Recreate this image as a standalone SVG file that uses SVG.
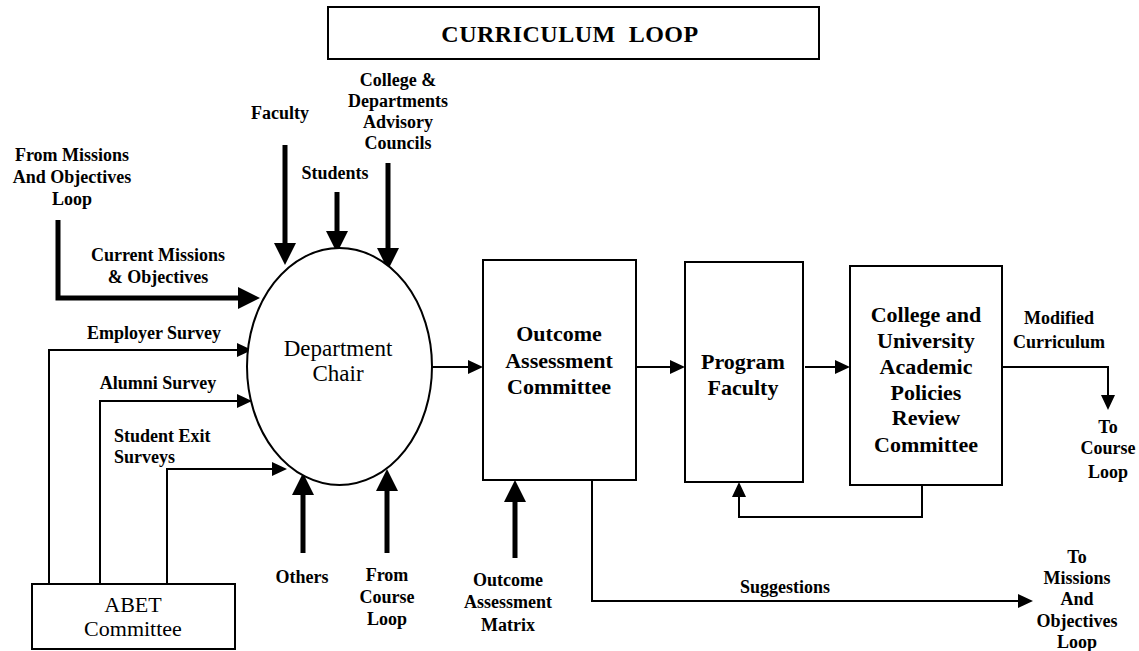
<svg xmlns="http://www.w3.org/2000/svg" width="1139" height="651" viewBox="0 0 1139 651">
<defs>
<style>
text{font-family:'Liberation Serif','DejaVu Serif',serif;fill:#000}
.shape{fill:#fff;stroke:#000;stroke-width:2}
.thick{fill:none;stroke:#000;stroke-width:5}
.thin{fill:none;stroke:#000;stroke-width:2}
.lbl{font-weight:bold;font-size:18px;text-anchor:middle}
.nb{font-weight:bold;font-size:22px;text-anchor:middle}
.nr{font-size:22px;text-anchor:middle}
</style>
<marker id="big" viewBox="0 0 22 22" markerWidth="22" markerHeight="22" refX="0" refY="11" orient="auto" markerUnits="userSpaceOnUse"><path d="M0,0 L22,11 L0,22 z" fill="#000"/></marker>
<marker id="small" viewBox="0 0 15 14" markerWidth="15" markerHeight="14" refX="0" refY="7" orient="auto" markerUnits="userSpaceOnUse"><path d="M0,0 L15,7 L0,14 z" fill="#000"/></marker>
</defs>
<rect width="1139" height="651" fill="#fff"/>

<g id="title">
<rect class="shape" x="328" y="7" width="491" height="52"/>
<text x="570" y="42" class="nb" style="font-size:24px;white-space:pre;letter-spacing:0.5px" xml:space="preserve">CURRICULUM  LOOP</text>
</g>

<g id="connectors">
<path class="thick" d="M285,145 V243" marker-end="url(#big)"/>
<path class="thick" d="M337,192 V231" marker-end="url(#big)"/>
<path class="thick" d="M388,163 V248" marker-end="url(#big)"/>
<path class="thick" d="M58,220 V298 H238" marker-end="url(#big)"/>
<path class="thick" d="M303,553 V495" marker-end="url(#big)"/>
<path class="thick" d="M387,553 V491" marker-end="url(#big)"/>
<path class="thick" d="M515,558 V502" marker-end="url(#big)"/>
<path class="thin" d="M49,584 V350 H237" marker-end="url(#small)"/>
<path class="thin" d="M100,584 V401 H237" marker-end="url(#small)"/>
<path class="thin" d="M167,584 V469 H272" marker-end="url(#small)"/>
<path class="thin" d="M432,367 H468" marker-end="url(#small)"/>
<path class="thin" d="M636,367 H670" marker-end="url(#small)"/>
<path class="thin" d="M805,367 H835" marker-end="url(#small)"/>
<path class="thin" d="M1002,367 H1108 V395" marker-end="url(#small)"/>
<path class="thin" d="M922,485 V517 H739 V497" marker-end="url(#small)"/>
<path class="thin" d="M592,480 V601 H1018" marker-end="url(#small)"/>
</g>

<g id="department-chair">
<ellipse class="shape" cx="339.5" cy="366.5" rx="92.5" ry="118.5"/>
<text class="nr" style="font-size:23px" x="338" y="356">Department</text>
<text class="nr" style="font-size:23px" x="338" y="381">Chair</text>
</g>

<g id="outcome-assessment-committee">
<rect class="shape" x="483" y="260" width="153" height="220"/>
<text class="nb" x="559" y="341">Outcome</text>
<text class="nb" x="559" y="368">Assessment</text>
<text class="nb" x="559" y="394">Committee</text>
</g>

<g id="program-faculty">
<rect class="shape" x="685" y="262" width="118" height="220"/>
<text class="nb" x="743" y="369">Program</text>
<text class="nb" x="743" y="395">Faculty</text>
</g>

<g id="college-committee">
<rect class="shape" x="850" y="266" width="152" height="219"/>
<text class="nb" x="926" y="322">College and</text>
<text class="nb" x="926" y="348">University</text>
<text class="nb" x="926" y="374">Academic</text>
<text class="nb" x="926" y="400">Policies</text>
<text class="nb" x="926" y="425">Review</text>
<text class="nb" x="926" y="452">Committee</text>
</g>

<g id="abet-committee">
<rect class="shape" x="32" y="584" width="203" height="65"/>
<text class="nr" x="133" y="612">ABET</text>
<text class="nr" x="133" y="636">Committee</text>
</g>

<g id="labels">
<text class="lbl" x="280" y="119">Faculty</text>
<text class="lbl" x="335" y="179">Students</text>
<text class="lbl" x="398" y="86">College &amp;</text>
<text class="lbl" x="398" y="107">Departments</text>
<text class="lbl" x="398" y="128">Advisory</text>
<text class="lbl" x="398" y="149">Councils</text>
<text class="lbl" x="72" y="161">From Missions</text>
<text class="lbl" x="72" y="183">And Objectives</text>
<text class="lbl" x="72" y="205">Loop</text>
<text class="lbl" x="158" y="261">Current Missions</text>
<text class="lbl" x="158" y="283">&amp; Objectives</text>
<text class="lbl" x="154" y="339">Employer Survey</text>
<text class="lbl" x="158" y="389">Alumni Survey</text>
<text class="lbl" x="114" y="442" style="text-anchor:start">Student Exit</text>
<text class="lbl" x="114" y="463" style="text-anchor:start">Surveys</text>
<text class="lbl" x="302" y="583">Others</text>
<text class="lbl" x="387" y="581">From</text>
<text class="lbl" x="387" y="603">Course</text>
<text class="lbl" x="387" y="625">Loop</text>
<text class="lbl" x="508" y="586">Outcome</text>
<text class="lbl" x="508" y="608">Assessment</text>
<text class="lbl" x="508" y="631">Matrix</text>
<text class="lbl" x="785" y="593">Suggestions</text>
<text class="lbl" x="1059" y="324">Modified</text>
<text class="lbl" x="1059" y="348">Curriculum</text>
<text class="lbl" x="1108" y="433">To</text>
<text class="lbl" x="1108" y="454">Course</text>
<text class="lbl" x="1108" y="478">Loop</text>
<text class="lbl" x="1077" y="563">To</text>
<text class="lbl" x="1077" y="584">Missions</text>
<text class="lbl" x="1077" y="605">And</text>
<text class="lbl" x="1077" y="627">Objectives</text>
<text class="lbl" x="1077" y="648">Loop</text>
</g>
</svg>
